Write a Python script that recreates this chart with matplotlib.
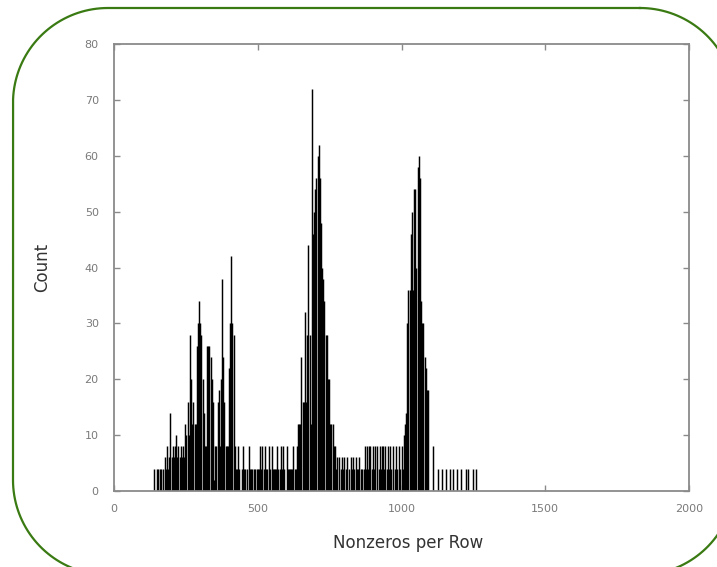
import numpy as np
import matplotlib
matplotlib.use("Agg")
import matplotlib.pyplot as plt

# counts per nonzeros-per-row value (bins every 4)
BIN = 4
left_start = 140
left_counts = [4, 0, 4, 4, 0, 4, 4, 0, 4, 6, 4, 8, 4, 6, 14, 6, 8, 6, 8, 10,
               6, 8, 6, 8, 6, 8, 6, 12, 10, 16, 10, 28, 20, 12, 16, 12, 12, 26, 30, 34,
               30, 28, 20, 14, 8, 8, 26, 26, 26, 24, 20, 16, 2, 8, 8, 16, 18, 8, 20, 38,
               24, 16, 8, 8, 8, 22, 30, 42, 30, 28, 8, 4]
flat1_start = 428
flat1_counts = [4, 8, 4, 0, 4, 8, 4, 4, 0, 4, 8, 4, 4, 4, 0, 4, 4, 4, 4, 4,
                8, 4, 8, 4, 8, 4, 4, 0, 8, 4, 8, 4, 4, 4, 4, 8, 4, 4, 8, 4,
                8, 4, 0, 8, 4, 4, 4, 4, 4, 8, 4, 4, 8]
mid_start = 640
mid_counts = [12, 12, 12, 24, 16, 16, 32, 16, 28, 44, 28, 12, 72, 46, 50, 54, 56, 60, 62, 56,
              48, 40, 38, 34, 28, 28, 20, 20, 12, 12, 12, 8, 8, 4]
flat2_start = 776
flat2_counts = [6, 0, 6, 4, 6, 4, 6, 0, 4, 6, 4, 0, 6, 4, 6, 4, 6, 4, 4, 6,
                0, 4, 4, 4, 8, 4, 8, 4, 8, 8, 4, 8, 4, 8, 0, 8, 4, 8, 4, 8,
                8, 4, 8, 4, 8, 4, 8, 4, 0, 8, 4, 8, 4, 0, 8, 4, 8, 4]
right_start = 1008
right_counts = [10, 12, 14, 30, 36, 36, 46, 50, 36, 54, 54, 40, 58, 60, 56, 34, 30, 30, 24, 22,
                18, 18, 0, 0, 0, 8]
tail_x = [1128, 1140, 1156, 1168, 1180, 1192, 1208, 1224, 1232, 1248, 1260]
tail_counts = [4, 4, 4, 4, 4, 4, 4, 4, 4, 4, 4]

xs = []
ys = []
for start, counts in [(left_start, left_counts), (flat1_start, flat1_counts),
                      (mid_start, mid_counts), (flat2_start, flat2_counts),
                      (right_start, right_counts)]:
    xs.extend(start + BIN * np.arange(len(counts)))
    ys.extend(counts)
xs.extend(tail_x)
ys.extend(tail_counts)
xs = np.array(xs)
ys = np.array(ys)

W, H = 717, 567
fig = plt.figure(figsize=(W / 100, H / 100), dpi=100)

# rounded green frame with circular corners, in pixel units (y down)
bg = fig.add_axes([0, 0, 1, 1])
bg.set_xlim(0, W)
bg.set_ylim(H, 0)
bg.axis("off")
x0, y0, x1, y1, r = 13, 8, 735, 575, 95
px, py = [], []
for cx, cy, a0 in [(x1 - r, y0 + r, -90), (x1 - r, y1 - r, 0),
                   (x0 + r, y1 - r, 90), (x0 + r, y0 + r, 180)]:
    t = np.radians(np.linspace(a0, a0 + 90, 40))
    px.extend(cx + r * np.cos(t))
    py.extend(cy + r * np.sin(t))
px.append(px[0])
py.append(py[0])
bg.plot(px, py, color="#3a7a12", linewidth=1.6)

ax = fig.add_axes([114 / W, (H - 491) / H, 575 / W, 447 / H])
ax.vlines(xs[ys > 0], 0, ys[ys > 0], color="black", linewidth=1.05)
ax.set_xlim(0, 2000)
ax.set_ylim(0, 80)
ax.set_xticks(np.arange(0, 2001, 500))
ax.set_yticks(np.arange(0, 81, 10))
gray = "#8a8a8a"
for s in ax.spines.values():
    s.set_color(gray)
    s.set_linewidth(1.3)
ax.tick_params(direction="in", length=4, width=1, color=gray, labelcolor="#7a7a7a",
               labelsize=8, top=True, right=True, pad=9)
ax.tick_params(axis="y", pad=11)
ax.set_xlabel("Nonzeros per Row", fontsize=12, color="#333333")
ax.set_ylabel("Count", fontsize=12, color="#333333")
ax.xaxis.set_label_coords((408 - 114) / 575, -(543 - 491) / 447)
ax.xaxis.label.set_va("center")
ax.yaxis.set_label_coords(-(114 - 42) / 575, 0.5)
ax.yaxis.label.set_va("center")

fig.savefig("out.png", dpi=100)
